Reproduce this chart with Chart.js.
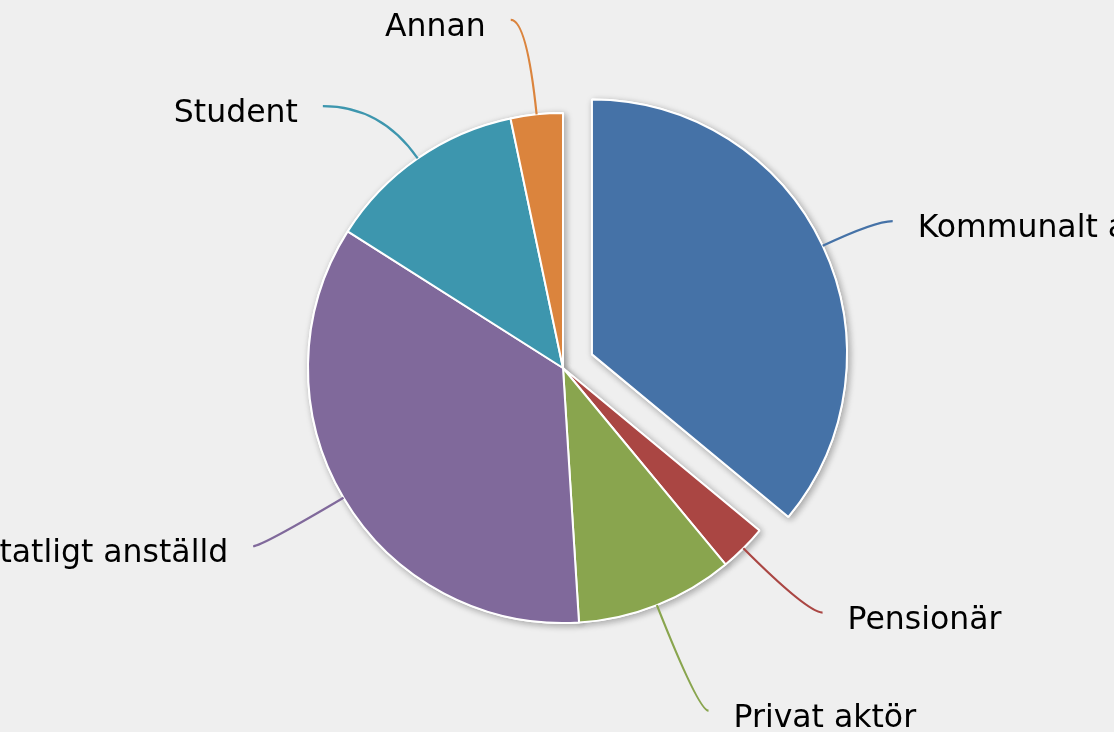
<!DOCTYPE html>
<html lang="sv">
<head>
<meta charset="utf-8">
<title>Sysselsättning</title>
<script src="https://cdn.jsdelivr.net/npm/chart.js@4.4.1/dist/chart.umd.min.js"></script>
<style>
    html, body { margin: 0; padding: 0; background: #efefef; overflow: hidden; }
    #pieChart { display: block; }
</style>
</head>
<body>
<canvas id="pieChart" width="1114" height="732"></canvas>
<script>
const categories = ['Kommunalt anställd', 'Pensionär', 'Privat aktör', 'Statligt anställd', 'Student', 'Annan'];
const shares = [36, 3, 10, 35, 12.7, 3.3];
const sliceColors = ['#4572A7', '#AA4643', '#89A54E', '#80699B', '#3D96AE', '#DB843D'];
const slicedOut = [true, false, false, false, false, false];

// small label moves (dx, dy), Highcharts shuffles its labels a bit too
const labelNudge = [[-25, 20], [5, -10], [13, 8], [0, -5], [-35, 34], [-15, 10]];

const SLICE_OFFSET = 32;
const LABEL_DISTANCE = 105;

// move sliced slices out along their middle angle
const slicePlugin = {
    id: 'slicePlugin',
    afterUpdate(chart)
    {
        const meta = chart.getDatasetMeta(0);
        meta.data.forEach((arc, i) =>
        {
            if (slicedOut[i])
            {
                const mid = (arc.startAngle + arc.endAngle) / 2;
                arc.x += Math.cos(mid) * SLICE_OFFSET;
                arc.y += Math.sin(mid) * SLICE_OFFSET;
            }
        });
    }
};

// soft shadow behind all slices
const shadowPlugin = {
    id: 'shadowPlugin',
    beforeDatasetsDraw(chart)
    {
        const ctx = chart.ctx;
        const meta = chart.getDatasetMeta(0);
        ctx.save();
        ctx.shadowColor = 'rgba(0, 0, 0, 0.3)';
        ctx.shadowBlur = 7;
        ctx.shadowOffsetX = 2;
        ctx.shadowOffsetY = 2;
        meta.data.forEach(arc => arc.draw(ctx));
        ctx.restore();
    }
};

// data labels with soft connectors
const labelPlugin = {
    id: 'labelPlugin',
    afterDatasetsDraw(chart)
    {
        const ctx = chart.ctx;
        const meta = chart.getDatasetMeta(0);

        ctx.save();
        ctx.font = '31.5px "DejaVu Sans", sans-serif';
        ctx.textBaseline = 'alphabetic';

        meta.data.forEach((arc, i) =>
        {
            const mid = (arc.startAngle + arc.endAngle) / 2;
            const cos = Math.cos(mid);
            const sin = Math.sin(mid);
            const r = arc.outerRadius;

            const edgeX = arc.x + cos * r;
            const edgeY = arc.y + sin * r;
            const endX = arc.x + cos * (r + LABEL_DISTANCE) + labelNudge[i][0];
            const endY = arc.y + sin * (r + LABEL_DISTANCE) + labelNudge[i][1];

            // bend point where the radial line meets the label height
            let ctrlX = endX;
            if (Math.abs(sin) > 0.05)
            {
                ctrlX = edgeX + cos * ((endY - edgeY) / sin);
            }

            ctx.beginPath();
            ctx.moveTo(edgeX, edgeY);
            ctx.quadraticCurveTo(ctrlX, endY, endX, endY);
            ctx.strokeStyle = sliceColors[i];
            ctx.lineWidth = 2.2;
            ctx.stroke();

            const right = cos >= 0;
            ctx.fillStyle = '#000000';
            ctx.textAlign = right ? 'left' : 'right';
            ctx.fillText(categories[i], endX + (right ? 25 : -25), endY + 16);
        });

        ctx.restore();
    }
};

const ctx = document.getElementById('pieChart').getContext('2d');

new Chart(ctx, {
    type: 'pie',
    data: {
        labels: categories,
        datasets: [{
            data: shares,
            backgroundColor: sliceColors,
            borderColor: '#ffffff',
            borderWidth: 2,
            hoverOffset: 0,
        }],
    },
    options: {
        responsive: false,
        animation: false,
        events: [],
        radius: 255,
        layout: {
            padding: { left: 12, right: 0, top: 4, bottom: 0 }
        },
        plugins: {
            legend: { display: false },
            tooltip: { enabled: false },
        },
    },
    plugins: [slicePlugin, shadowPlugin, labelPlugin],
});
</script>
</body>
</html>
